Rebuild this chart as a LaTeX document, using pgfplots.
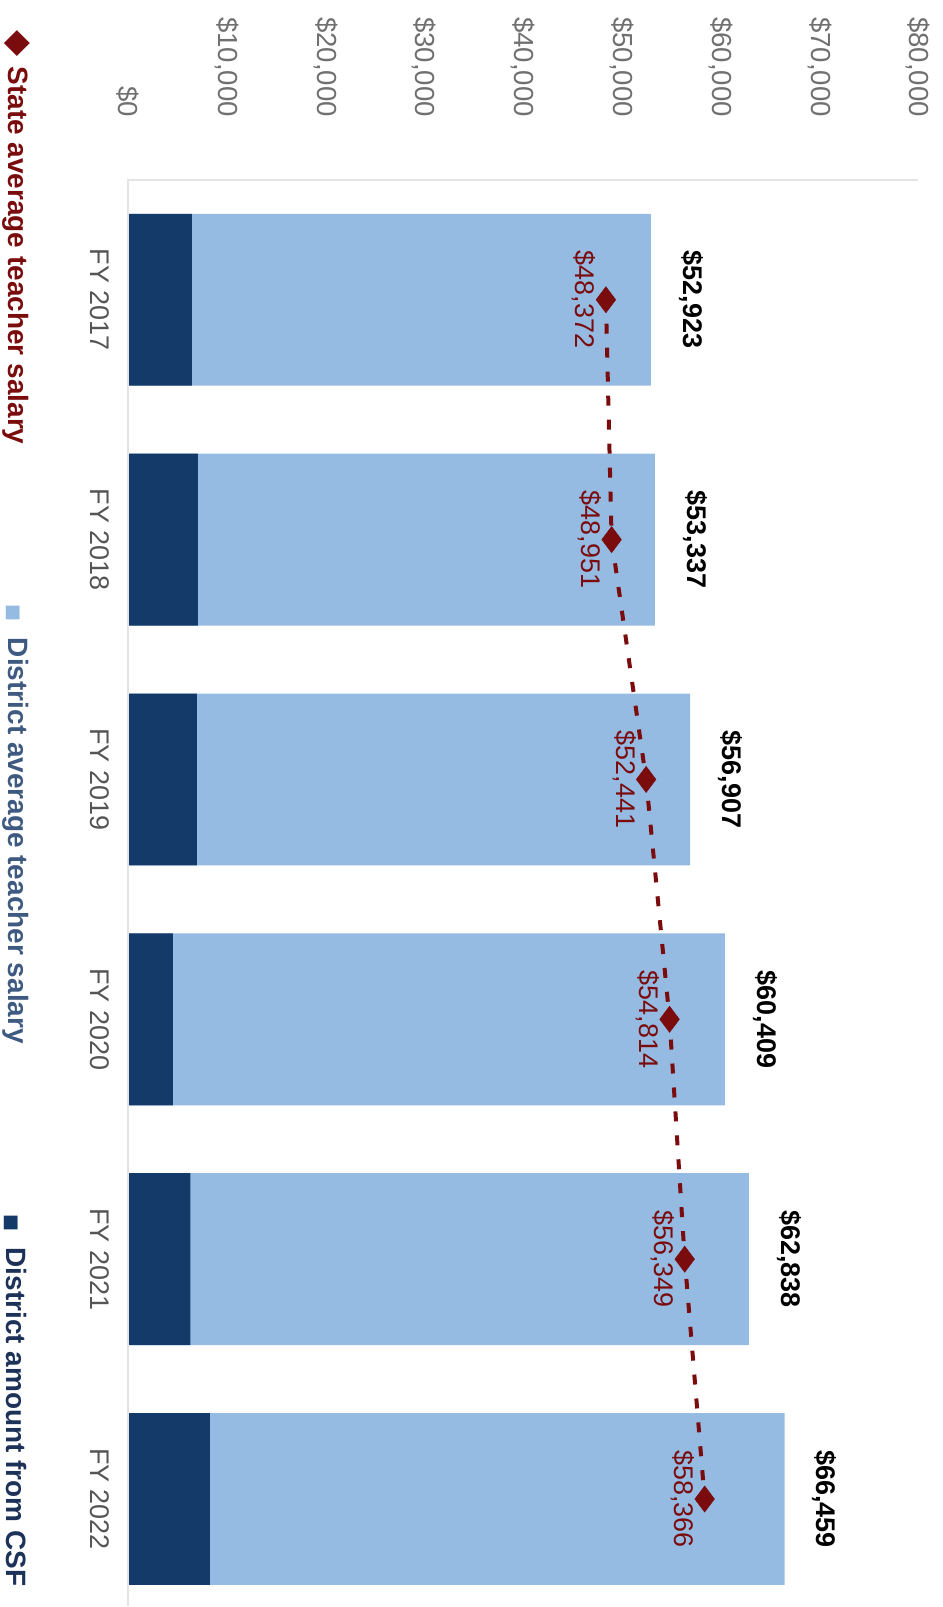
\documentclass[border=0pt]{standalone}
\usepackage{fontspec}
\setmainfont{Liberation Sans}
\newfontfamily\symfont{DejaVu Sans}
\usepackage{pgfplots}
\pgfplotsset{compat=1.18}
\definecolor{lightbar}{RGB}{150,187,226}
\definecolor{darkbar}{RGB}{19,58,105}
\definecolor{statered}{RGB}{122,12,14}
\definecolor{ticktext}{RGB}{112,112,112}
\definecolor{cattext}{RGB}{85,85,85}
\definecolor{legtwo}{RGB}{62,90,128}
\definecolor{legthree}{RGB}{28,50,88}
\definecolor{axisgray}{RGB}{228,228,228}
\begin{document}
\begin{tikzpicture}
\begin{axis}[
  scale only axis, width=395.5pt, height=713.5pt,
  xmin=0, xmax=80000, ymin=-0.446, ymax=5.5,
  clip=false,
  axis line style={draw=none},
  tick style={draw=none},
  major tick length=0pt,
  xtick={0,10000,20000,30000,40000,50000,60000,70000,80000},
  xticklabel pos=right,
  scaled x ticks=false,
  /pgf/number format/fixed,
  /pgf/number format/precision=0,
  /pgf/number format/1000 sep={,},
  /pgf/number format/assume math mode=true,
  xticklabel={\$\pgfmathprintnumber{\tick}},
  xticklabel style={rotate=-90, anchor=east, font=\fontsize{13.8}{16}\selectfont, text=ticktext},
  xticklabel shift=28pt,
  ytick={0,1,2,3,4,5},
  yticklabels={FY 2022,FY 2021,FY 2020,FY 2019,FY 2018,FY 2017},
  yticklabel style={rotate=-90, anchor=north, font=\fontsize{13.5}{16}\selectfont, text=cattext},
  yticklabel shift=6pt,
]
% district average teacher salary (full bar)
\addplot[xbar, bar width=86pt, bar shift=0pt, fill=lightbar, draw=none,
  point meta=x,
  nodes near coords={\$\pgfmathprintnumber{\pgfplotspointmeta}},
  every node near coord/.append style={rotate=-90, anchor=south, inner sep=0pt, outer sep=14pt,
    font=\bfseries\fontsize{13.5}{16}\selectfont, text=black}]
  coordinates {(52923,5) (53337,4) (56907,3) (60409,2) (62838,1) (66459,0)};
% district amount from CSF
\addplot[xbar, bar width=86pt, bar shift=0pt, fill=darkbar, draw=none]
  coordinates {(6470,5) (7080,4) (6980,3) (4550,2) (6330,1) (8300,0)};
% state average teacher salary
\addplot[statered, line width=2pt, dash pattern=on 5pt off 7pt,
  mark=diamond*, mark size=6.5pt, mark options={solid, fill=statered, line width=0.3pt},
  point meta=x,
  nodes near coords={\$\pgfmathprintnumber{\pgfplotspointmeta}},
  every node near coord/.append style={rotate=-90, anchor=north, inner sep=0pt, outer sep=5pt,
    font=\fontsize{13.5}{16}\selectfont, text=statered}]
  coordinates {(48372,5) (48951,4) (52441,3) (54814,2) (56349,1) (58366,0)};
\draw[axisgray, line width=1pt] (rel axis cs:0,0) -- (rel axis cs:0,1) -- (rel axis cs:1,1);
% legend
\node[rotate=-90, anchor=west, inner sep=0pt, font=\bfseries\fontsize{14}{16}\selectfont, text=statered]
  at (rel axis cs:-0.1416,1.105) {{\symfont\fontsize{17}{18}\selectfont ◆}\hspace{5pt}State average teacher salary};
\node[rotate=-90, anchor=west, inner sep=0pt, font=\bfseries\fontsize{14}{16}\selectfont, text=legtwo]
  at (rel axis cs:-0.1416,0.7022) {\textcolor{lightbar}{\symfont\fontsize{9}{10}\selectfont ■}\hspace{8pt}District average teacher salary};
\node[rotate=-90, anchor=west, inner sep=0pt, font=\bfseries\fontsize{14}{16}\selectfont, text=legthree]
  at (rel axis cs:-0.1416,0.2747) {\textcolor{darkbar}{\symfont\fontsize{9}{10}\selectfont ■}\hspace{8pt}District amount from CSF};
\path (rel axis cs:-0.1618,1.1261) rectangle (rel axis cs:1.0303,0);
\end{axis}
\end{tikzpicture}
\end{document}
